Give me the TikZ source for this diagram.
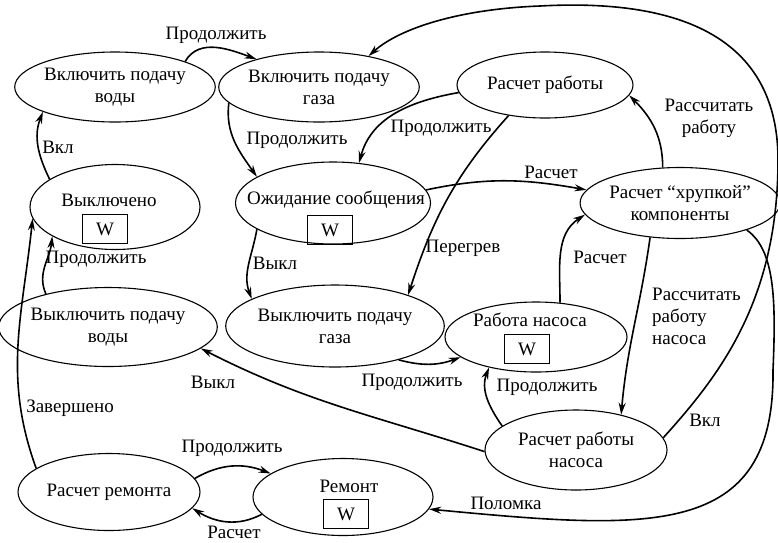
\documentclass[tikz,border=0pt]{standalone}
\usepackage{fontspec}
\setmainfont{Liberation Serif}
\newfontfamily\diagfont{Liberation Serif}
\usetikzlibrary{shapes.geometric, arrows.meta}
\tikzset{state/.style={draw, ellipse, line width=1.1pt, inner sep=0pt, align=center},
 wbox/.style={draw, rectangle, line width=0.7pt, minimum width=45, minimum height=29, inner sep=0pt},
 lbl/.style={align=center, inner sep=0pt},
 trans/.style={line width=1.6pt, -{Stealth[length=12pt,width=7pt]}}
}

\begin{document}
\begin{tikzpicture}[x=1pt, y=-1pt, font=\diagfont\fontsize{19}{22}\selectfont]
 \useasboundingbox (0,0) rectangle (778,542);
 % states
 \node[state, minimum width=170, minimum height=70] (vklvoda) at (115,87) {Включить подачу\\воды};
 \node[state, minimum width=168, minimum height=70] (vklgaz) at (319,87) {Включить подачу\\газа};
 \node[state, minimum width=176, minimum height=66] (raschet) at (545,85) {Расчет работы};
 \node[state, minimum width=170, minimum height=85] (vykl) at (115,207) {};
 \node (vykl-t) at (109,200) {Выключено};
 \node[wbox] (vykl-w) at (105,229) {W};
 \node[state, minimum width=195, minimum height=82] (ozhid) at (333,203) {};
 \node (ozhid-t) at (336,200) {Ожидание сообщения};
 \node[wbox] (ozhid-w) at (330,230) {W};
 \node[state, minimum width=169, minimum height=71] (hrup) at (680,203) {Расчет “хрупкой”\\компоненты};
 \node[state, minimum width=181, minimum height=79] (vyklvoda) at (108,327) {Выключить подачу\\воды};
 \node[state, minimum width=181, minimum height=82] (vyklgaz) at (335,326) {Выключить подачу\\газа};
 \node[state, minimum width=182, minimum height=70] (nasos) at (536,337) {};
 \node (nasos-t) at (530,320) {Работа насоса};
 \node[wbox] (nasos-w) at (527,349) {W};
 \node[state, minimum width=182, minimum height=80] (rrnasos) at (576,450) {Расчет работы\\насоса};
 \node[state, minimum width=182, minimum height=77] (remcalc) at (109,492) {Расчет ремонта};
 \node[state, minimum width=180, minimum height=77] (remont) at (343,497) {};
 \node (remont-t) at (349,486) {Ремонт};
 \node[wbox] (remont-w) at (346,514) {W};
 % transitions
 \draw[trans] (vklvoda.20) to[out=60, in=160] (vklgaz.156);
 \draw[trans] (vklgaz.190) to[out=-97, in=125] (ozhid.161);
 \draw[trans] (rrnasos.8) .. controls (720,375) and (778,300) .. (778,160) .. controls (778,20) and (650,0) .. (540,6) .. controls (460,9) and (400,28) .. (vklgaz.32);
 \draw[trans] (raschet.185) to[out=190, in=75] (ozhid.57);
 \draw[trans] (raschet.220) to[out=228, in=72] (vyklgaz.23);
 \draw[trans] (ozhid.8) to[out=12, in=170] (hrup.172);
 \draw[trans] (hrup.116) to[out=90, in=-45] (raschet.-7);
 \draw[trans] (ozhid.199) to[out=-100, in=110] (vyklgaz.162);
 \draw[trans] (nasos.55) to[out=90, in=213] (hrup.187);
 \draw[trans] (hrup.229) to[out=-98, in=85] (rrnasos.38);
 \draw[trans] (hrup.-22) .. controls (775,250) and (776,300) .. (773,370) .. controls (775,540) and (650,530) .. (remont.-8);
 \draw[trans] (vyklgaz.-28) to[out=-15, in=200] (nasos.195);
 \draw[trans] (rrnasos.162) to[out=125, in=-111] (nasos.213);
 \draw[trans] (rrnasos.181) to[out=162, in=-27] (vyklvoda.-13);
 \draw[trans] (vyklvoda.152) to[out=114, in=-96] (vykl.205);
 \draw[trans] (vykl.157) to[out=116, in=-111] (vklvoda.199);
 \draw[trans] (remcalc.162) to[out=110, in=-96] (vykl.188);
 \draw[trans] (remcalc.9) to[out=30, in=159] (remont.162);
 \draw[trans] (remont.192) to[out=208, in=-32] (remcalc.-11);
 % labels
 \node[lbl] (l-prod1) at (216,35) {Продолжить};
 \node[lbl] (l-prod2) at (297,140) {Продолжить};
 \node[lbl] (l-prod3) at (441,128) {Продолжить};
 \node[lbl] (l-peregrev) at (463,248) {Перегрев};
 \node[lbl] (l-raschet1) at (551,172) {Расчет};
 \node[lbl] (l-rabotu) at (709,118) {Рассчитать\\работу};
 \node[lbl] (l-vykl1) at (275,263) {Выкл};
 \node[lbl] (l-raschet2) at (600,257) {Расчет};
 \node[lbl, align=left, anchor=west] (l-rabnasosa) at (652,316) {Рассчитать\\работу\\насоса};
 \node[lbl] (l-polomka) at (506,503) {Поломка};
 \node[lbl] (l-prod4) at (412,382) {Продолжить};
 \node[lbl] (l-prod5) at (547,387) {Продолжить};
 \node[lbl] (l-vykl2) at (213,382) {Выкл};
 \node[lbl] (l-vkl1) at (705,420) {Вкл};
 \node[lbl] (l-prod6) at (96,259) {Продолжить};
 \node[lbl] (l-vkl2) at (58,147) {Вкл};
 \node[lbl] (l-zaversheno) at (70,408) {Завершено};
 \node[lbl] (l-prod7) at (232,448) {Продолжить};
 \node[lbl] (l-raschet3) at (234,532) {Расчет};
\end{tikzpicture}
\end{document}
